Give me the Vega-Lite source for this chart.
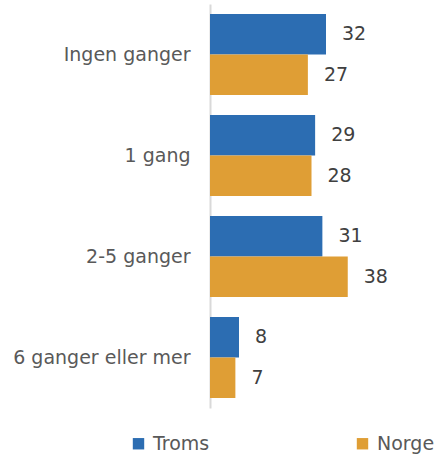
{
  "$schema": "https://vega.github.io/schema/vega-lite/v6.json",
  "width": 232,
  "height": 404,
  "autosize": "none",
  "padding": {"left": 210, "top": 4, "right": 0, "bottom": 49},
  "background": "white",
  "config": {"view": {"stroke": null}, "font": "DejaVu Sans"},
  "data": {"values": [
    {"kategori": "Ingen ganger", "serie": "Troms", "verdi": 32},
    {"kategori": "Ingen ganger", "serie": "Norge", "verdi": 27},
    {"kategori": "1 gang", "serie": "Troms", "verdi": 29},
    {"kategori": "1 gang", "serie": "Norge", "verdi": 28},
    {"kategori": "2-5 ganger", "serie": "Troms", "verdi": 31},
    {"kategori": "2-5 ganger", "serie": "Norge", "verdi": 38},
    {"kategori": "6 ganger eller mer", "serie": "Troms", "verdi": 8},
    {"kategori": "6 ganger eller mer", "serie": "Norge", "verdi": 7}
  ]},
  "encoding": {
    "y": {"field": "kategori", "type": "nominal", "sort": ["Ingen ganger", "1 gang", "2-5 ganger", "6 ganger eller mer"],
      "scale": {"paddingInner": 0.2, "paddingOuter": 0.1},
      "axis": {"title": null, "ticks": false, "domainColor": "#d9d9d9", "domainWidth": 2, "labelFontSize": 19, "labelColor": "#595959", "labelPadding": 20, "labelFont": "DejaVu Sans"}},
    "yOffset": {"field": "serie", "type": "nominal", "sort": ["Troms", "Norge"]},
    "x": {"field": "verdi", "type": "quantitative", "scale": {"domain": [0, 64]}, "axis": null}
  },
  "layer": [
    {"mark": {"type": "bar"},
     "encoding": {"color": {"field": "serie", "type": "nominal", "sort": ["Troms", "Norge"],
        "scale": {"domain": ["Troms", "Norge"], "range": ["#2C6DB2", "#DF9E35"]},
        "legend": {"title": null, "orient": "none", "legendX": -81, "legendY": 430, "direction": "horizontal", "columns": 2, "columnPadding": 143, "symbolType": "square", "symbolSize": 130, "symbolStrokeWidth": 0, "labelFontSize": 19, "labelColor": "#595959", "labelOffset": 5, "labelFont": "DejaVu Sans"}}}},
    {"mark": {"type": "text", "align": "left", "dx": 16, "fontSize": 19, "color": "#404040", "font": "DejaVu Sans"},
     "encoding": {"text": {"field": "verdi", "type": "quantitative"}}}
  ]
}
